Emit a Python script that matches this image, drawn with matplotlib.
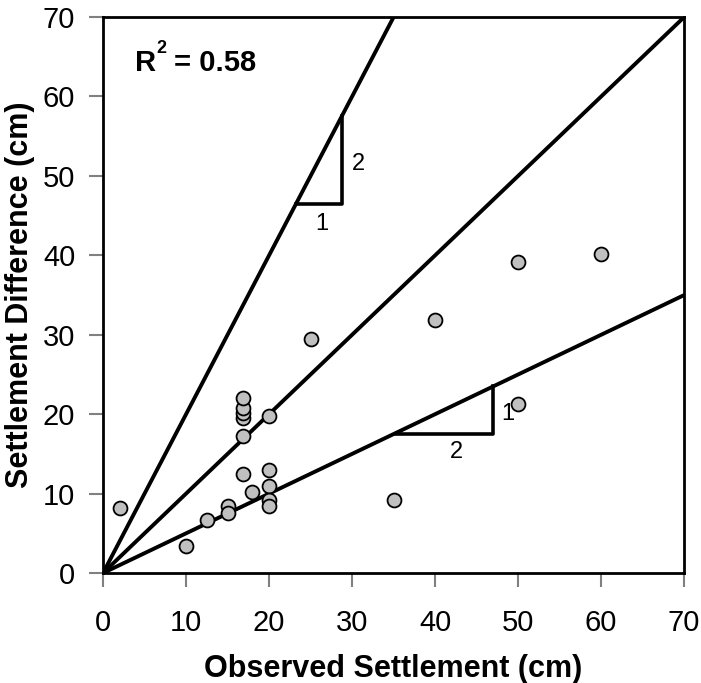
import numpy as np
import matplotlib
matplotlib.use('Agg')
import matplotlib.pyplot as plt

plt.rcParams['font.family'] = ['Liberation Sans', 'DejaVu Sans']

# observed settlement vs settlement difference (cm)
observed = [2, 10, 12.5, 15, 15, 16.8, 16.8, 16.8, 16.8, 16.8, 16.8, 18,
            20, 20, 20, 20, 20, 25, 35, 40, 50, 50, 60]
difference = [8.2, 3.4, 6.7, 8.5, 7.5, 12.5, 17.3, 19.5, 20.1, 20.8, 22.1, 10.2,
              19.8, 13.0, 11.0, 9.2, 8.5, 29.5, 9.2, 31.9, 39.2, 21.3, 40.2]

slopes = [2.0, 1.0, 0.5]

# slope triangles and their labels
tri_upper = ([23.3, 28.75, 28.75], [46.5, 46.5, 57.5])
tri_lower = ([35.3, 47.0, 47.0], [17.5, 17.5, 23.5])
tri_labels = [(26.4, 44.0, '1'), (30.8, 51.5, '2'),
              (42.6, 15.3, '2'), (48.7, 20.0, '1')]

ticks = np.arange(0, 71, 10)

fig = plt.figure(figsize=(7.01, 6.83), dpi=100)
ax = fig.add_axes([0.147, 0.161, 0.829, 0.814])

xs = np.array([0, 70])
for s in slopes:
    ax.plot(xs, s * xs, color='black', lw=2.8, zorder=2, solid_capstyle='butt')

ax.plot(*tri_upper, color='black', lw=2.6, zorder=2)
ax.plot(*tri_lower, color='black', lw=2.6, zorder=2)
for x, y, t in tri_labels:
    ax.text(x, y, t, fontsize=17, ha='center', va='center', zorder=3)

ax.scatter(observed, difference, s=100, facecolor='#c0c0c0', edgecolor='black',
           linewidth=1.3, zorder=4, clip_on=False)

# R^2 text: "R" then small superscript "2"
ax.text(3.9, 64.2, 'R', fontsize=21, fontweight='bold', va='center', ha='left')
ax.text(6.4, 66.0, '2', fontsize=13, fontweight='bold', va='center', ha='left')
ax.text(8.6, 64.2, '= 0.58', fontsize=21, fontweight='bold', va='center', ha='left')

ax.set_xlim(0, 70)
ax.set_ylim(0, 70)
ax.set_xticks(ticks)
ax.set_yticks(ticks)
ax.tick_params(direction='out', length=10, width=1.5, color='#808080',
               labelsize=21)
ax.tick_params(axis='x', pad=16)
ax.tick_params(axis='y', pad=10)
for sp in ax.spines.values():
    sp.set_linewidth(2)
    sp.set_color('black')

ax.set_xlabel('Observed Settlement (cm)', fontsize=22, fontweight='bold', labelpad=12)
ax.set_ylabel('Settlement Difference (cm)', fontsize=22, fontweight='bold', labelpad=6)

fig.savefig('out.png', dpi=100)
